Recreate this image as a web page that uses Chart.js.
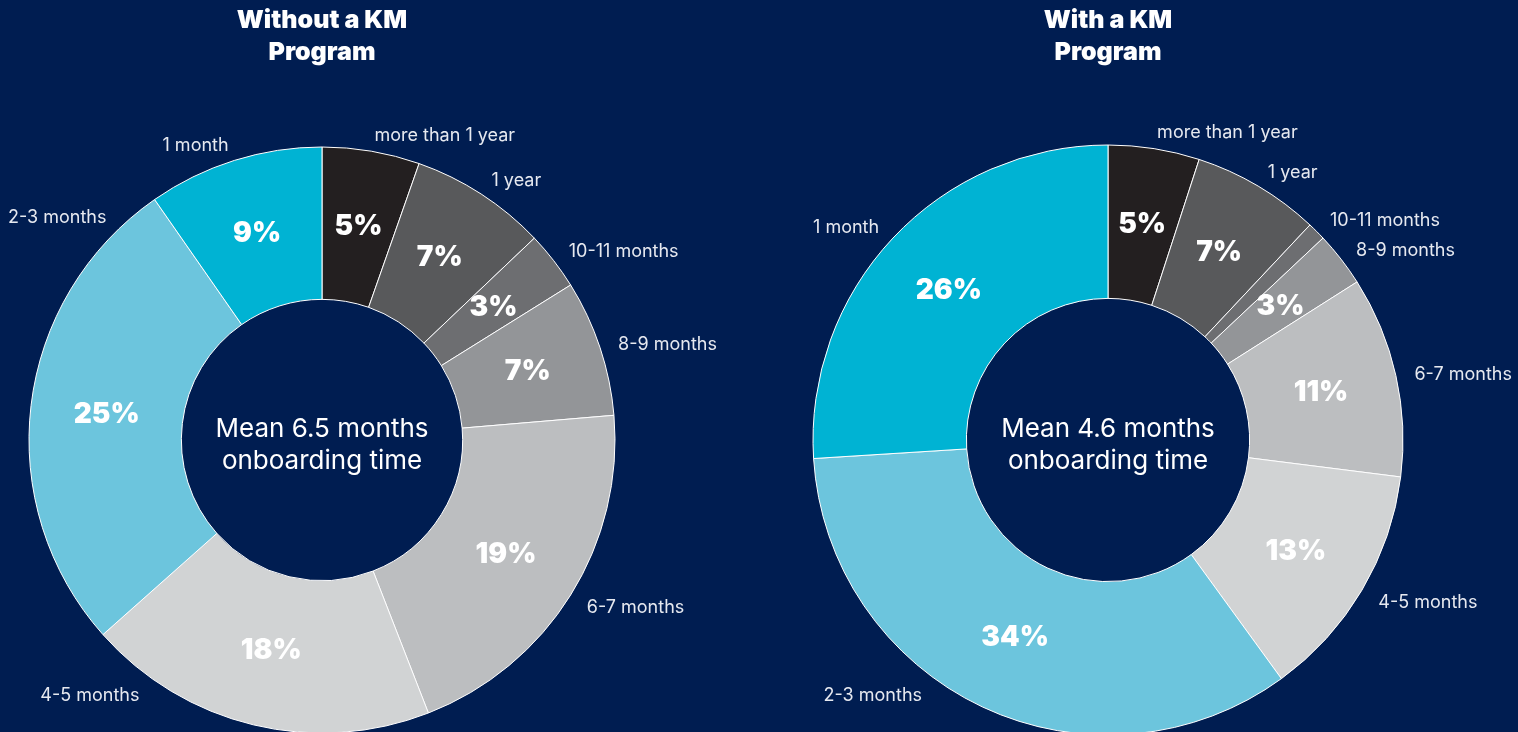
<!DOCTYPE html>
<html>
<head>
<meta charset="utf-8">
<title>Onboarding time</title>
<script src="https://cdn.jsdelivr.net/npm/chart.js@4/dist/chart.umd.min.js"></script>
<style>
  html, body { margin: 0; padding: 0; background: #001D51; overflow: hidden; width: 1518px; height: 732px; }
  canvas { position: absolute; top: 0; }
  #withoutChart { left: 0; }
  #withChart { left: 758px; }
</style>
</head>
<body>
<canvas id="withoutChart" width="760" height="740"></canvas>
<canvas id="withChart" width="760" height="740"></canvas>
<script>
// Categories go clockwise from 12 o'clock
const categories = ['more than 1 year', '1 year', '10-11 months', '8-9 months',
                    '6-7 months', '4-5 months', '2-3 months', '1 month'];

// Share of respondents (%)
const withoutKmValues = [5, 7, 3, 7, 19, 18, 25, 9];
const withKmValues = [5, 7, 1, 3, 11, 13, 34, 26];

const chartTitles = [['Without a KM', 'Program'], ['With a KM', 'Program']];
const centerTexts = [['Mean 6.5 months', 'onboarding time'], ['Mean 4.6 months', 'onboarding time']];

const sliceColors = ['#231F20', '#58595B', '#6D6E71', '#939598',
                     '#BCBEC0', '#D1D3D4', '#6CC5DD', '#00B3D3'];

const FONT = 'Inter, "Noto Sans", sans-serif';

// Draws the % inside each slice, the category outside it and the mean in the hole
const donutLabels = {
    id: 'donutLabels',
    afterDatasetsDraw(chart, args, opts) {
        const ctx = chart.ctx;
        const meta = chart.getDatasetMeta(0);
        const values = chart.data.datasets[0].data;
        ctx.save();
        meta.data.forEach((arc, i) => {
            const p = arc.getProps(['x', 'y', 'startAngle', 'endAngle', 'innerRadius', 'outerRadius'], true);
            const mid = (p.startAngle + p.endAngle) / 2;

            // value inside the slice
            if (values[i] >= 2) {
                const c = arc.tooltipPosition(true);
                ctx.fillStyle = '#FFFFFF';
                ctx.font = '900 28px ' + FONT;
                ctx.textAlign = 'center';
                ctx.textBaseline = 'middle';
                ctx.fillText(values[i] + '%', c.x, c.y);
            }

            // category name outside the ring
            ctx.font = '400 18px ' + FONT;
            const w = ctx.measureText(chart.data.labels[i]).width;
            const r = p.outerRadius + opts.gap;
            let cos = Math.cos(mid);
            let sin = Math.sin(mid);
            // slide the label round the ring if it would run off the left edge
            const minCos = -(p.x - opts.margin - w) / r;
            if (cos < minCos) {
                cos = minCos;
                sin = (sin < 0 ? -1 : 1) * Math.sqrt(1 - cos * cos);
            }
            // ... or off the bottom
            const maxSin = (opts.bottom - p.y) / r;
            if (sin > maxSin) {
                sin = maxSin;
                cos = (cos < 0 ? -1 : 1) * Math.sqrt(1 - sin * sin);
            }
            const lx = p.x + cos * r;
            const ly = p.y + sin * r + 3;
            ctx.fillStyle = '#E6E9F0';
            ctx.textAlign = cos > 0.08 ? 'left' : (cos < -0.08 ? 'right' : 'center');
            ctx.textBaseline = 'middle';
            ctx.fillText(chart.data.labels[i], lx, ly);
        });

        // text in the hole
        const first = meta.data[0];
        ctx.fillStyle = '#FFFFFF';
        ctx.font = '400 26px ' + FONT;
        ctx.textAlign = 'center';
        ctx.textBaseline = 'middle';
        opts.center.forEach((line, k) => {
            ctx.fillText(line, first.x, first.y + k * 32 - 11);
        });
        ctx.restore();
    }
};

function makeDonut(canvasId, values, title, center, pad, titleGap) {
    return new Chart(document.getElementById(canvasId), {
        type: 'doughnut',
        data: {
            labels: categories,
            datasets: [{
                data: values,
                backgroundColor: sliceColors,
                borderColor: '#FFFFFF',
                borderWidth: 1
            }]
        },
        options: {
            responsive: false,
            animation: false,
            cutout: '48%',
            layout: { padding: pad },
            plugins: {
                legend: { display: false },
                tooltip: { enabled: false },
                title: {
                    display: true,
                    text: title,
                    color: '#FFFFFF',
                    font: { family: FONT, size: 25, weight: '900', lineHeight: 1.28 },
                    padding: { top: 4, bottom: titleGap }
                },
                donutLabels: { gap: 19, margin: 8, bottom: 693, center: center }
            }
        },
        plugins: [donutLabels]
    });
}

makeDonut('withoutChart', withoutKmValues, chartTitles[0], centerTexts[0],
          { left: 28.5, right: 144.5, top: 0, bottom: 6.5 }, 78.5);
makeDonut('withChart', withKmValues, chartTitles[1], centerTexts[1],
          { left: 54.5, right: 114.5, top: 0, bottom: 4.5 }, 76.5);
</script>
</body>
</html>
